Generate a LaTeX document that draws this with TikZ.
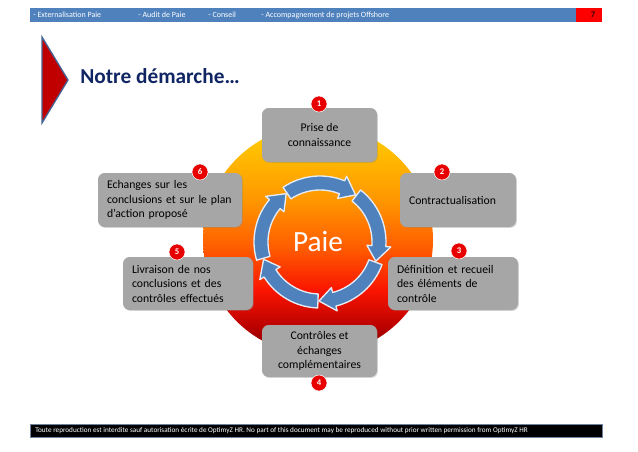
\documentclass[tikz,border=0pt]{standalone}
\usepackage{fontspec}
\setmainfont{Carlito}
\usepackage{xcolor}
\usepackage{tikz}
\usetikzlibrary{shadows}

\definecolor{barblue}{RGB}{79,129,189}
\definecolor{titlenavy}{RGB}{16,37,99}
\definecolor{boxgray}{RGB}{166,166,166}
\definecolor{badgered}{RGB}{232,0,0}
\definecolor{pagered}{RGB}{255,0,0}
\definecolor{trired}{RGB}{192,0,0}
\definecolor{triedge}{RGB}{70,100,150}
\definecolor{footedge}{RGB}{110,130,160}
\definecolor{shdark}{RGB}{110,0,0}
\definecolor{shone}{RGB}{180,0,0}
\definecolor{shtwo}{RGB}{250,20,0}
\definecolor{shthree}{RGB}{255,90,0}
\definecolor{shfour}{RGB}{255,150,0}
\definecolor{shfive}{RGB}{255,210,0}

\pgfdeclareverticalshading{paieball}{100bp}{color(0bp)=(shdark); color(25bp)=(shdark); color(30.5bp)=(shone); color(39bp)=(shtwo); color(48bp)=(shthree); color(58.5bp)=(shfour); color(75bp)=(shfive); color(100bp)=(shfive)}

\begin{document}
\begin{tikzpicture}[x=0.75pt, y=0.75pt,
    stepbox/.style={rectangle, rounded corners=5pt, fill=boxgray, font=\fontsize{8.8}{10.9}\selectfont, inner xsep=6.75pt, drop shadow={shadow xshift=0.7pt, shadow yshift=-0.7pt, opacity=0.3}},
    badge/.style={circle, fill=badgered, draw=white, line width=0.4pt, minimum size=12pt, inner sep=0pt, text=white, font=\fontsize{6.5}{7}\selectfont\bfseries},
    cyclearrow/.style={fill=barblue, draw=white!85!barblue, line width=1pt, line join=round},
    bartext/.style={anchor=west, text=white, font=\fontsize{6}{7}\selectfont, inner sep=0pt}
]
\useasboundingbox (0,0) rectangle (638,451);

% bandeau du haut
\fill[barblue] (30,429) rectangle (576,443);
\fill[pagered] (576,429) rectangle (602,443);
\node[bartext] (menuA) at (33,436) {- Externalisation Paie};
\node[bartext] (menuB) at (138,436) {- Audit de Paie};
\node[bartext] (menuC) at (208,436) {- Conseil};
\node[bartext] (menuD) at (261,436) {- Accompagnement de projets Offshore};
\node[font=\fontsize{6.5}{7}\selectfont\bfseries, text=black!80!red] (page) at (593,436) {7};

% titre
\filldraw[fill=trired, draw=triedge, line width=1pt] (42,414) -- (68,371) -- (42,328) -- cycle;
\node[font=\fontsize{16}{18}\selectfont\bfseries, text=titlenavy, anchor=west, inner sep=0pt] (titre) at (80,375) {Notre démarche…};

% disque
\shade[shading=paieball] (318,211) circle[radius=115];

% cycle
\begin{scope}[shift={(320,209)}]
\foreach \tip in {53,-19,-91,-163,-235} {
    \pgfmathsetmacro{\sa}{\tip+71}
    \pgfmathsetmacro{\ha}{\tip+15}
    \filldraw[cyclearrow] (\sa:66) arc[start angle=\sa, end angle=\ha, radius=66] -- (\ha:71) -- (\tip:59) -- (\ha:47) -- (\ha:52) arc[start angle=\ha, end angle=\sa, radius=52] -- cycle;
}
\end{scope}
\node[text=white, font=\fontsize{22}{24}\selectfont] (paie) at (318,209) {Paie};

% etapes
\node[stepbox, minimum width=86.25pt, minimum height=40.5pt, align=center] (prise) at (319.5,316) {Prise de\\connaissance};
\node[stepbox, text width=73.5pt, minimum height=40.5pt, align=left] (contrat) at (458,251) {Contractualisation};
\node[stepbox, text width=84pt, minimum height=39.75pt, align=left] (definition) at (453,167.5) {Définition et recueil\\des éléments de\\contrôle};
\node[stepbox, minimum width=86.25pt, minimum height=39pt, align=center] (controles) at (319.5,100) {Contrôles et\\échanges\\complémentaires};
\node[stepbox, text width=84pt, minimum height=39.75pt, align=left] (livraison) at (188,167.5) {Livraison de nos\\conclusions et des\\contrôles effectués};
\node[stepbox, text width=94.5pt, minimum height=40.5pt, align=left] (echanges) at (170,251) {Echanges sur les\\conclusions et sur le plan\\d’action proposé};

\foreach \x/\y/\n in {319/347/1, 442/279/2, 459/200/3, 319/68/4, 177/199/5, 200/279/6}
    \node[badge] (num\n) at (\x,\y) {\n};

% pied de page
\filldraw[fill=black, draw=footedge, line width=0.6pt] (30,14) rectangle (602,27);
\node[anchor=west, text=white, font=\fontsize{5.4}{6}\selectfont, inner sep=0pt] (mention) at (35,20.5) {Toute reproduction est interdite sauf autorisation écrite de OptimyZ HR. No part of this document may be reproduced without prior written permission from OptimyZ HR};
\end{tikzpicture}
\end{document}
